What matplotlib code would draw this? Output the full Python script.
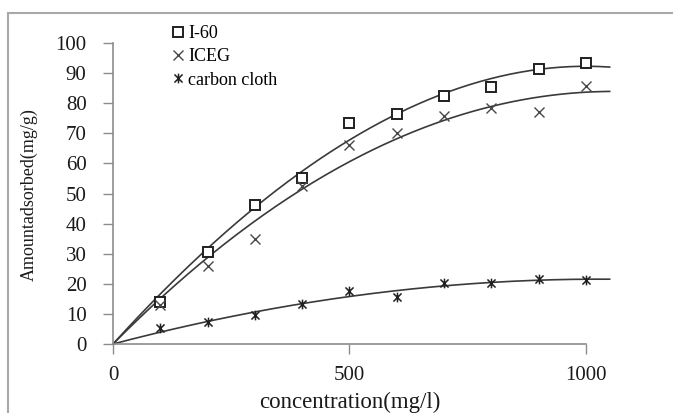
import numpy as np
import matplotlib.pyplot as plt
from matplotlib.path import Path
from matplotlib.lines import Line2D

### data
conc = [100, 200, 300, 400, 500, 600, 700, 800, 900, 1000]
i60 = [14.0, 30.6, 46.2, 55.2, 73.4, 76.4, 82.5, 85.3, 91.3, 93.4]
iceg = [12.8, 26.0, 35.0, 52.5, 66.1, 70.1, 75.8, 78.4, 77.1, 85.7]
cloth = [5.3, 7.2, 9.6, 13.4, 17.6, 15.7, 20.2, 20.2, 21.6, 21.3]
labels = ['I-60', 'ICEG', 'carbon cloth']
fit_deg = [3, 2, 3]   # trendline order per series
xticks = [0, 500, 1000]
yticks = list(range(0, 101, 10))

font = 'Liberation Serif'
line_c = '#3a3a3a'
axis_c = '#8c8c8c'

# asterisk marker: x plus vertical bar
star = Path([(-1, -1), (1, 1), (-1, 1), (1, -1), (0, -1.2), (0, 1.2)],
            [Path.MOVETO, Path.LINETO, Path.MOVETO, Path.LINETO, Path.MOVETO, Path.LINETO])


def fit_origin(x, y, deg):
    # least squares polynomial with zero intercept
    x = np.asarray(x, float) / 1000
    A = np.column_stack([x ** k for k in range(1, deg + 1)])
    c, *_ = np.linalg.lstsq(A, np.asarray(y, float), rcond=None)
    return lambda t: sum(ci * (t / 1000) ** (k + 1) for k, ci in enumerate(c))


fig = plt.figure(figsize=(6.73, 4.13), dpi=100)
ax = fig.add_axes([113/673, 1 - 344/413, (586 - 113)/673, (344 - 43)/413])

# trend curves drawn 0..1050
xx = np.linspace(0, 1050, 200)
for ys, deg in zip((i60, iceg, cloth), fit_deg):
    f = fit_origin(conc, ys, deg)
    ax.plot(xx, f(xx), color=line_c, lw=1.2, clip_on=False, zorder=2)

h1, = ax.plot(conc, i60, ls='none', marker='s', ms=7.5, mfc='white', mec='#202020', mew=1.4,
              zorder=3, clip_on=False)
h2, = ax.plot(conc, iceg, ls='none', marker='x', ms=7, mec='#484848', mew=1.0,
              zorder=3, clip_on=False)
h3, = ax.plot(conc, cloth, ls='none', marker=star, ms=7, mec='#202020', mew=1.1,
              zorder=3, clip_on=False)

ax.set_xlim(0, 1000)
ax.set_ylim(0, 100)
ax.set_xticks(xticks)
ax.set_yticks(yticks)
ax.tick_params(direction='out', length=7, width=1, color=axis_c, labelsize=15, labelcolor='#1a1a1a')
ax.tick_params(axis='x', pad=9)
ax.tick_params(axis='y', pad=12)
for lab in ax.get_xticklabels() + ax.get_yticklabels():
    lab.set_family(font)

for s in ['top', 'right']:
    ax.spines[s].set_visible(False)
for s in ['left', 'bottom']:
    ax.spines[s].set_color(axis_c)
    ax.spines[s].set_linewidth(1.2)

fig.text(350/673, 1 - 402/413, 'concentration(mg/l)', ha='center', va='center',
         family=font, fontsize=16.5, color='#1a1a1a')
fig.text(29/673, 1 - 195/413, 'Amountadsorbed(mg/g)', ha='center', va='center',
         rotation=90, family=font, fontsize=13, color='#1a1a1a')

ax.legend([h1, h2, h3], labels, loc='upper left', bbox_to_anchor=(171/673, 1 - 25/413),
          bbox_transform=fig.transFigure, frameon=False, borderpad=0, borderaxespad=0,
          handlelength=0.8, handletextpad=0.15, labelspacing=0.35,
          prop={'family': font, 'size': 13})

# outer border (top and left only visible)
fig.add_artist(Line2D([8/673, 1], [1 - 13/413, 1 - 13/413], color='#a8a8a8', lw=1.5))
fig.add_artist(Line2D([8/673, 8/673], [0, 1 - 13/413], color='#a8a8a8', lw=1.5))

fig.savefig('out.png', dpi=100)
